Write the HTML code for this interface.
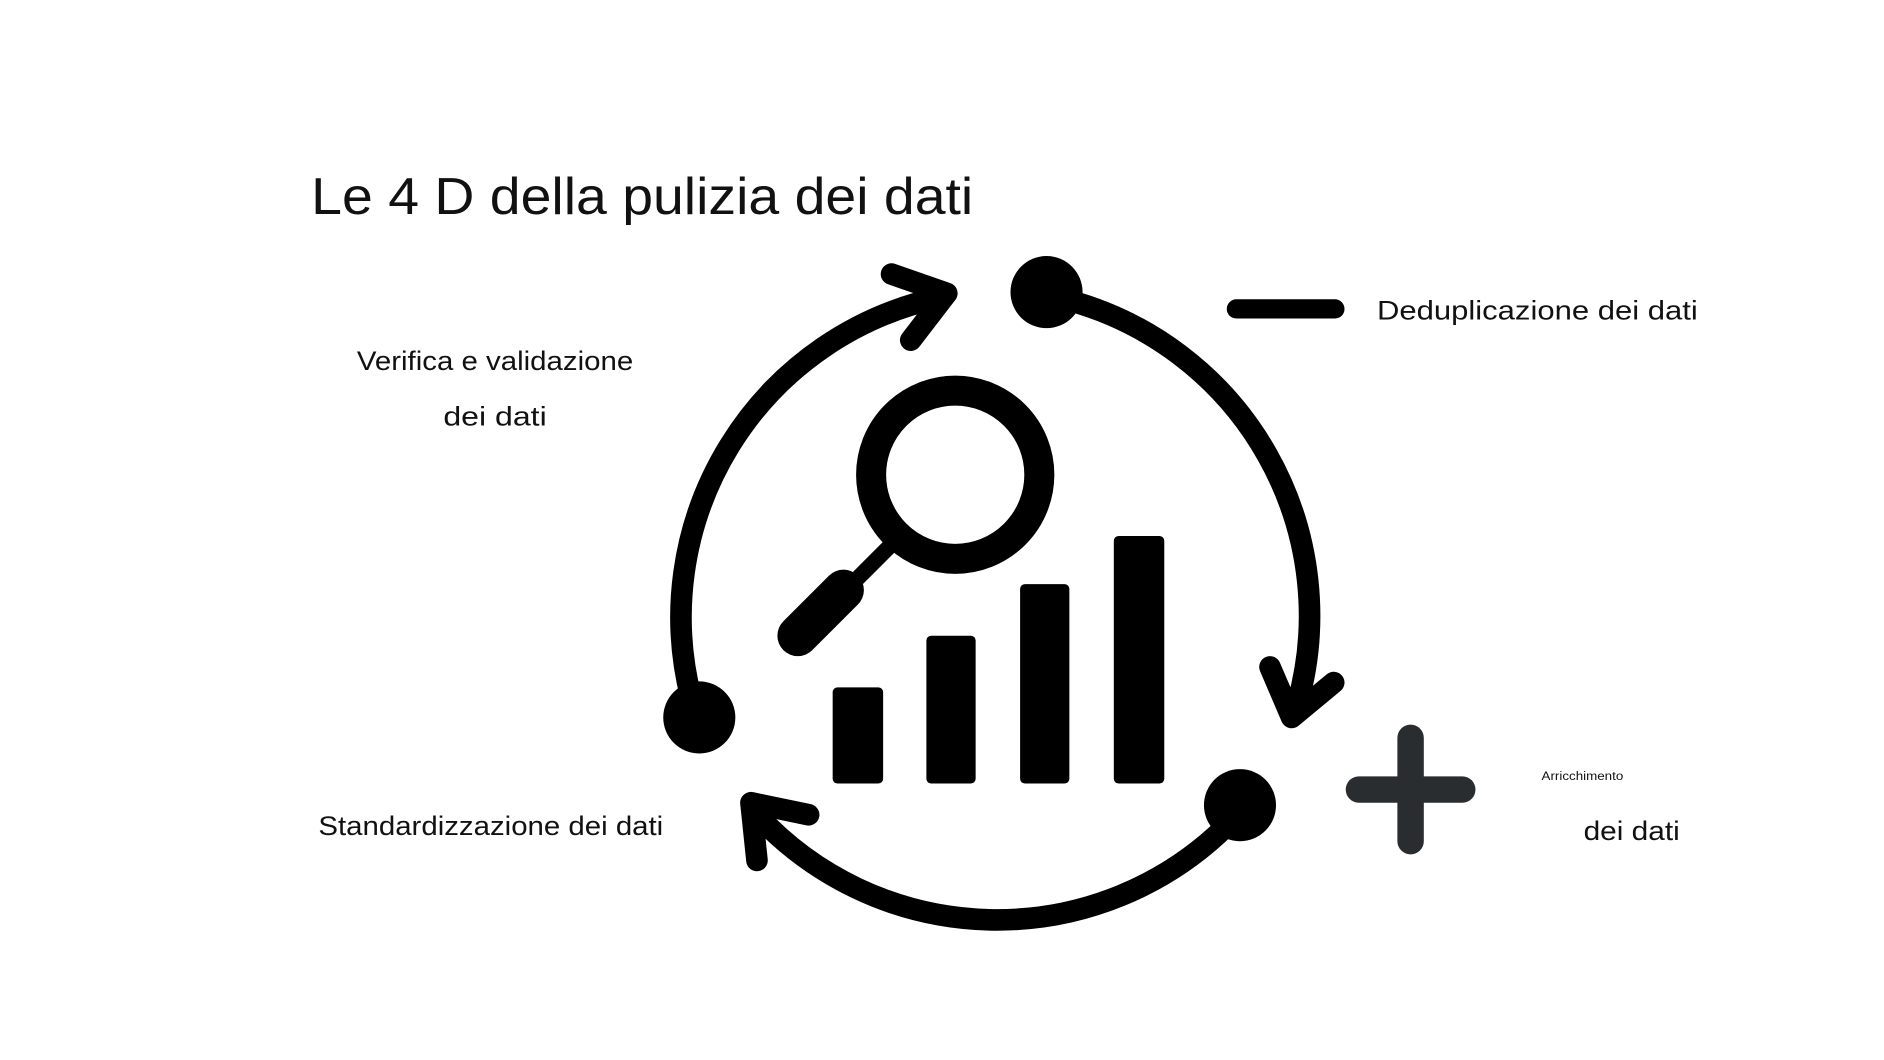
<!DOCTYPE html>
<html><head><meta charset="utf-8"><style>html,body{margin:0;padding:0;background:#fff}svg{display:block}</style></head>
<body>
<svg width="1884" height="1060" viewBox="0 0 1568 882" xmlns="http://www.w3.org/2000/svg" font-family="'Liberation Sans', sans-serif">
<rect width="1568" height="882" fill="#fff"/>
<text x="259" y="178" font-size="43" fill="#111" textLength="551" lengthAdjust="spacingAndGlyphs">Le 4 D della pulizia dei dati</text>
<g fill="none" stroke="#000" stroke-width="18" stroke-linecap="round" stroke-linejoin="round">
<path d="M 890 250 A 272 272 0 0 1 1080 585"/>
<path d="M 575 580 A 272 272 0 0 1 780 248"/>
<path d="M 1020 688 A 272 272 0 0 1 630 678"/>
<polyline points="742,228 788,244 758,283"/>
<polyline points="1057,555 1075,597 1110,568"/>
<polyline points="673,678 625,668 630,716"/>
</g>
<g fill="#000">
<circle cx="871" cy="243" r="30"/>
<circle cx="582" cy="597" r="30"/>
<circle cx="1032" cy="670" r="30"/>
</g>
<circle cx="795" cy="395" r="70" fill="none" stroke="#000" stroke-width="25"/>
<line x1="740" y1="455" x2="700" y2="495" stroke="#000" stroke-width="13"/>
<line x1="702" y1="491" x2="664" y2="529" stroke="#000" stroke-width="34" stroke-linecap="round"/>
<g fill="#000">
<rect x="693" y="572" width="42" height="80" rx="4"/>
<rect x="771" y="529" width="41" height="123" rx="4"/>
<rect x="849" y="486" width="41" height="166" rx="4"/>
<rect x="927" y="446" width="42" height="206" rx="4"/>
</g>
<line x1="1029" y1="257" x2="1111" y2="257" stroke="#000" stroke-width="16" stroke-linecap="round"/>
<g stroke="#2a2d30" stroke-width="22" stroke-linecap="round">
<line x1="1174" y1="614" x2="1174" y2="700"/>
<line x1="1131" y1="657" x2="1217" y2="657"/>
</g>
<g fill="#111" font-size="22" lengthAdjust="spacingAndGlyphs">
<text x="1146" y="266" textLength="267" lengthAdjust="spacingAndGlyphs">Deduplicazione dei dati</text>
<text x="297" y="308" textLength="230" lengthAdjust="spacingAndGlyphs">Verifica e validazione</text>
<text x="369" y="354" textLength="86" lengthAdjust="spacingAndGlyphs">dei dati</text>
<text x="265" y="695" textLength="287" lengthAdjust="spacingAndGlyphs">Standardizzazione dei dati</text>
<text x="1318" y="699" textLength="80" lengthAdjust="spacingAndGlyphs">dei dati</text>
<text x="1283" y="649" font-size="10" textLength="68" lengthAdjust="spacingAndGlyphs">Arricchimento</text>
</g>
</svg>
</body></html>
